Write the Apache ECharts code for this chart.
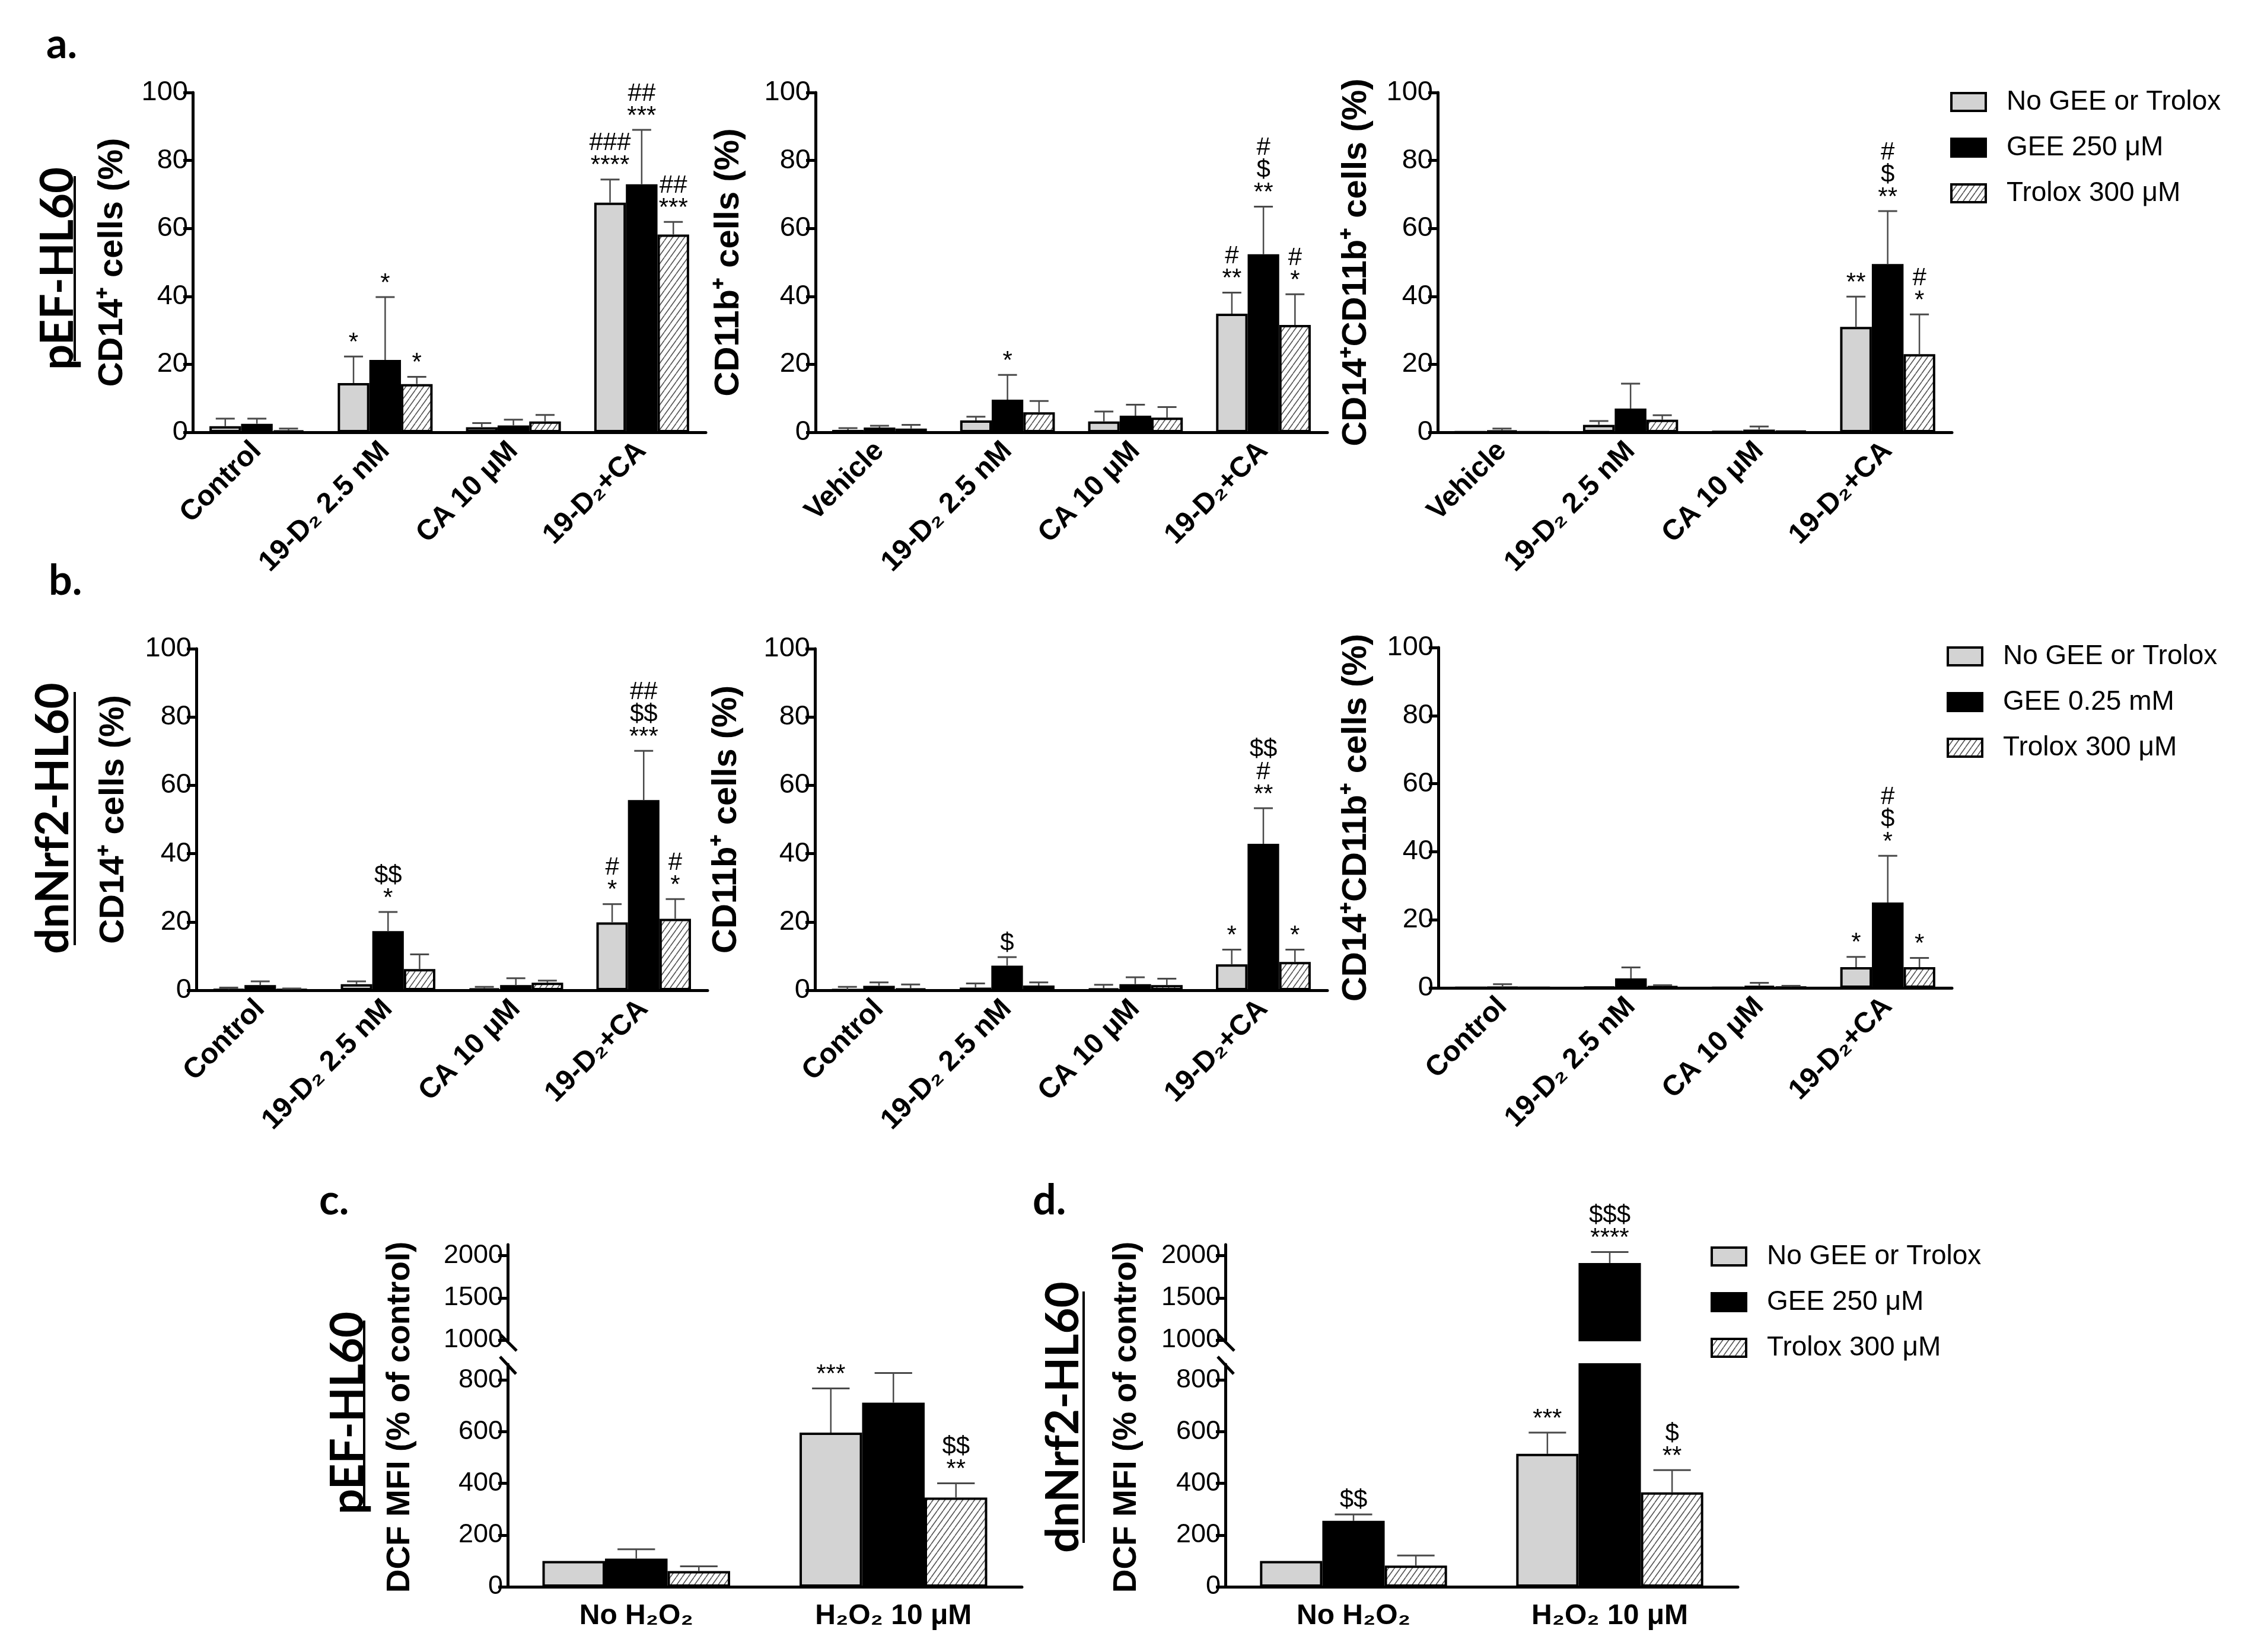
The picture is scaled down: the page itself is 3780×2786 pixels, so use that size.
<!DOCTYPE html>
<html>
<head>
<meta charset="utf-8">
<title>GEE / Trolox bar charts</title>
<script src="https://cdn.jsdelivr.net/npm/echarts@6/dist/echarts.min.js"></script>
<style>
  html, body { margin: 0; padding: 0; background: #fff; }
  #main { width: 3780px; height: 2786px; }
</style>
</head>
<body>
<div id="main"></div>
<script>
// legend groups
var groupsA = ['No GEE or Trolox', 'GEE 250 μM', 'Trolox 300 μM'];
var groupsB = ['No GEE or Trolox', 'GEE 0.25 mM', 'Trolox 300 μM'];

// categories
var catsCtrl = ['Control', '19-D₂ 2.5 nM', 'CA 10 μM', '19-D₂+CA'];
var catsVeh = ['Vehicle', '19-D₂ 2.5 nM', 'CA 10 μM', '19-D₂+CA'];
var catsH2O2 = ['No H₂O₂', 'H₂O₂ 10 μM'];

// tick labels
var pctTicks = [0, 20, 40, 60, 80, 100];
var mfiTicksLow = [0, 200, 400, 600, 800];
var mfiTicksHigh = [1000, 1500, 2000];

// a. pEF-HL60 : [gray, black, hatched] x categories
var a1Mean = [[1.8, 14.5, 1.5, 67.6], [2.5, 21.3, 2.0, 73.0], [0.5, 14.2, 3.2, 58.2]];
var a1Sd = [[2.2, 7.8, 1.2, 6.8], [1.5, 18.5, 1.7, 16.0], [0.6, 2.1, 1.9, 3.7]];
var a1Sig = [['', '*', '', '###\n****'], ['', '*', '', '##\n***'], ['', '*', '', '##\n***']];

var a2Mean = [[0.7, 3.5, 3.2, 34.9], [1.4, 9.6, 4.9, 52.4], [1.1, 5.9, 4.3, 31.6]];
var a2Sd = [[0.5, 1.1, 2.9, 6.2], [0.5, 7.3, 3.2, 14.0], [1.1, 3.3, 3.1, 9.0]];
var a2Sig = [['', '', '', '#\n**'], ['', '*', '', '#\n$\n**'], ['', '', '', '#\n*']];

var a3Mean = [[0.1, 2.2, 0.3, 31.0], [0.5, 7.0, 0.8, 49.5], [0.1, 3.7, 0.4, 23.0]];
var a3Sd = [[0, 1.1, 0, 8.9], [0.6, 7.3, 0.9, 15.6], [0, 1.3, 0, 11.7]];
var a3Sig = [['', '', '', '**'], ['', '', '', '#\n$\n**'], ['', '', '', '#\n*']];

// b. dnNrf2-HL60
var b1Mean = [[0.3, 1.8, 0.5, 19.9], [1.5, 17.3, 1.5, 55.7], [0.3, 6.2, 2.2, 20.9]];
var b1Sd = [[0.5, 0.8, 0.5, 5.3], [1.1, 5.6, 2.0, 14.4], [0.2, 4.3, 0.6, 5.8]];
var b1Sig = [['', '', '', '#\n*'], ['', '$$\n*', '', '##\n$$\n***'], ['', '', '', '#\n*']];

var b2Mean = [[0.2, 0.8, 0.5, 7.6], [1.3, 7.2, 1.8, 42.9], [0.5, 1.4, 1.5, 8.3]];
var b2Sd = [[0.8, 1.2, 1.1, 4.3], [1.0, 2.5, 2.0, 10.4], [1.2, 0.9, 1.9, 3.6]];
var b2Sig = [['', '', '', '*'], ['', '$', '', '$$\n#\n**'], ['', '', '', '*']];

var b3Mean = [[0.05, 0.3, 0.1, 6.1], [0.2, 2.8, 0.6, 25.1], [0.05, 0.5, 0.3, 6.1]];
var b3Sd = [[0, 0, 0, 3.0], [0.9, 3.2, 0.9, 13.7], [0, 0.3, 0.3, 2.7]];
var b3Sig = [['', '', '', '*'], ['', '', '', '#\n$\n*'], ['', '', '', '*']];

// c. pEF-HL60 DCF MFI, d. dnNrf2-HL60 DCF MFI
var cMean = [[100, 596], [109, 712], [61, 345]];
var cSd = [[0, 171], [36, 115], [18, 55]];
var cSig = [['', '***'], ['', ''], ['', '$$\n**']];

var dMean = [[100, 514], [255, 1913], [82, 365]];
var dSd = [[0, 82], [25, 130], [39, 86]];
var dSig = [['', '***'], ['$$', '$$$\n****'], ['', '$\n**']];

// hatch pattern
var tile = document.createElement('canvas');
tile.width = 10; tile.height = 14;
var tc = tile.getContext('2d');
tc.fillStyle = '#fff';
tc.fillRect(0, 0, 10, 14);
tc.strokeStyle = '#555';
tc.lineWidth = 1.6;
tc.beginPath();
tc.moveTo(0, 14); tc.lineTo(10, 0);
tc.moveTo(-10, 14); tc.lineTo(0, 0);
tc.moveTo(10, 14); tc.lineTo(20, 0);
tc.stroke();
var hatch = { image: tile, repeat: 'repeat' };

var fills = ['#d3d3d3', '#000', hatch];
var FONT = "'Liberation Sans', Arial, sans-serif";
var HEAD = "bold 76px Lato, 'Open Sans', sans-serif";

var panels = [
  { cats: catsCtrl, mean: a1Mean, sd: a1Sd, sig: a1Sig, names: groupsA, left: 325, top: 156, width: 865, height: 573, yName: 'CD14⁺ cells (%)', nameGap: 106, min: 0, max: 100, ticks: pctTicks, gap: 0.26 },
  { cats: catsVeh, mean: a2Mean, sd: a2Sd, sig: a2Sig, names: groupsA, left: 1375, top: 156, width: 863, height: 573, yName: 'CD11b⁺ cells (%)', nameGap: 117, min: 0, max: 100, ticks: pctTicks, gap: 0.26 },
  { cats: catsVeh, mean: a3Mean, sd: a3Sd, sig: a3Sig, names: groupsA, left: 2424, top: 156, width: 867, height: 573, yName: 'CD14⁺CD11b⁺ cells (%)', nameGap: 108, min: 0, max: 100, ticks: pctTicks, gap: 0.26 },
  { cats: catsCtrl, mean: b1Mean, sd: b1Sd, sig: b1Sig, names: groupsB, left: 331, top: 1094, width: 862, height: 576, yName: 'CD14⁺ cells (%)', nameGap: 110, min: 0, max: 100, ticks: pctTicks, gap: 0.26 },
  { cats: catsCtrl, mean: b2Mean, sd: b2Sd, sig: b2Sig, names: groupsB, left: 1374, top: 1094, width: 864, height: 576, yName: 'CD11b⁺ cells (%)', nameGap: 120, min: 0, max: 100, ticks: pctTicks, gap: 0.26 },
  { cats: catsCtrl, mean: b3Mean, sd: b3Sd, sig: b3Sig, names: groupsB, left: 2425, top: 1092, width: 866, height: 574, yName: 'CD14⁺CD11b⁺ cells (%)', nameGap: 109, min: 0, max: 100, ticks: pctTicks, gap: 0.26 },
  { cats: catsH2O2, mean: cMean, sd: cSd, sig: cSig, names: groupsA, left: 856, top: 2099, width: 867, height: 161, min: 1000, max: 2130, ticks: mfiTicksHigh, gap: 0.27, hideX: true },
  { cats: catsH2O2, mean: cMean, sd: cSd, sig: cSig, names: groupsA, left: 856, top: 2301, width: 867, height: 375, min: 0, max: 860, ticks: mfiTicksLow, gap: 0.27, flat: true },
  { cats: catsH2O2, mean: dMean, sd: dSd, sig: dSig, names: groupsA, left: 2066, top: 2099, width: 864, height: 161, min: 1000, max: 2130, ticks: mfiTicksHigh, gap: 0.27, hideX: true },
  { cats: catsH2O2, mean: dMean, sd: dSd, sig: dSig, names: groupsA, left: 2066, top: 2301, width: 864, height: 375, min: 0, max: 860, ticks: mfiTicksLow, gap: 0.27, flat: true }
];

var grids = [], xAxes = [], yAxes = [], series = [];

panels.forEach(function (p, i) {
  grids.push({ left: p.left, top: p.top, width: p.width, height: p.height, outerBoundsMode: 'none', containLabel: false });
  var small = p.ticks === pctTicks;
  xAxes.push({
    type: 'category', gridIndex: i, data: p.cats, show: !p.hideX,
    axisLine: { lineStyle: { color: '#000', width: 5 } },
    axisTick: { alignWithLabel: true, length: 18, lineStyle: { color: '#000', width: 5 } },
    axisLabel: p.flat ? { interval: 0, color: '#000', fontFamily: FONT, fontWeight: 'bold', fontSize: 48, margin: 26 }
                      : { interval: 0, rotate: 45, color: '#000', fontFamily: FONT, fontWeight: 'bold', fontSize: 48, margin: 24 }
  });
  yAxes.push({
    type: 'value', gridIndex: i, min: p.min, max: p.max,
    interval: small ? 20 : undefined,
    name: p.yName || '', nameLocation: 'middle', nameGap: p.nameGap || 0, nameRotate: 90,
    nameTextStyle: { color: '#000', fontFamily: FONT, fontWeight: 'bold', fontSize: 58 },
    axisLine: { show: true, lineStyle: { color: '#000', width: 5 } },
    axisTick: { show: true, length: 16, lineStyle: { color: '#000', width: 5 }, customValues: p.ticks },
    axisLabel: {
      color: '#000', fontFamily: FONT, fontSize: small ? 47 : 45, margin: 8, customValues: p.ticks,
      formatter: function (v) { return String(v); }
    },
    splitLine: { show: false }
  });
  p.mean.forEach(function (vals, g) {
    series.push({
      type: 'bar', name: p.names[g], xAxisIndex: i, yAxisIndex: i,
      data: vals.map(function (v) { return v >= p.min ? v : '-'; }),
      barGap: '0%', barCategoryGap: Math.round(p.gap * 100) + '%',
      itemStyle: { color: fills[g], borderColor: '#000', borderWidth: 4 },
      emphasis: { disabled: true }, silent: true
    });
  });
  // error bars and significance marks
  var items = [];
  p.mean.forEach(function (vals, g) {
    vals.forEach(function (m, c) {
      items.push({ value: [c, m, m + p.sd[g][c], g], sig: p.sig[g][c] });
    });
  });
  series.push({
    type: 'custom', xAxisIndex: i, yAxisIndex: i, z: 10, silent: true,
    data: items.map(function (it) { return it.value; }),
    renderItem: function (params, api) {
      var it = items[params.dataIndex];
      var c = api.value(0), m = api.value(1), top = api.value(2), g = api.value(3);
      if (m > p.max || top < p.min) return null;
      var band = api.size([1, 0])[0];
      var bw = band * (1 - p.gap) / 3;
      var b = api.coord([c, Math.max(m, p.min)]);
      var t = api.coord([c, top]);
      var x = b[0] + (g - 1) * bw;
      var kids = [];
      if (top > m) {
        kids.push({ type: 'line', shape: { x1: x, y1: b[1], x2: x, y2: t[1] }, style: { stroke: '#4a4a4a', lineWidth: 2.5 } });
        kids.push({ type: 'line', shape: { x1: x - bw * 0.3, y1: t[1], x2: x + bw * 0.3, y2: t[1] }, style: { stroke: '#4a4a4a', lineWidth: 3 } });
      }
      if (it.sig) {
        kids.push({ type: 'text', x: x, y: t[1] - 4, style: { text: it.sig, fill: '#000', fontFamily: FONT, fontSize: 42, lineHeight: 38, align: 'center', verticalAlign: 'bottom' } });
      }
      return { type: 'group', children: kids };
    }
  });
});

var legendText = { color: '#000', fontFamily: FONT, fontSize: 46, padding: [0, 0, 0, 30] };
var legends = [
  { data: groupsA, left: 3283, top: 144 },
  { data: groupsB, left: 3277, top: 1079 },
  { data: groupsA, left: 2879, top: 2091 }
].map(function (l) {
  return {
    data: l.data, left: l.left, top: l.top, orient: 'vertical', icon: 'rect',
    itemWidth: 58, itemHeight: 30, itemGap: 31, selectedMode: false,
    itemStyle: { borderColor: '#000', borderWidth: 4 },
    textStyle: legendText
  };
});

// panel letters, row labels, underlines, broken-axis marks
var graphics = [];
function letter(t, x, y) {
  graphics.push({ type: 'text', left: x, top: y, style: { text: t, fill: '#000', font: "bold 70px Lato, 'Open Sans', sans-serif" } });
}
letter('a.', 78, 40);
letter('b.', 82, 945);
letter('c.', 538, 1990);
letter('d.', 1741, 1990);

function rowLabel(t, cx, cy, ux, y1, y2) {
  graphics.push({ type: 'text', x: cx, y: cy, rotation: Math.PI / 2, style: { text: t, fill: '#000', font: HEAD, align: 'center', verticalAlign: 'middle' } });
  graphics.push({ type: 'line', shape: { x1: ux, y1: y1, x2: ux, y2: y2 }, style: { stroke: '#000', lineWidth: 4 } });
}
rowLabel('pEF-HL60', 98, 453, 126, 297, 609);
rowLabel('dnNrf2-HL60', 90, 1380, 126, 1167, 1594);
rowLabel('pEF-HL60', 587, 2383, 614, 2227, 2540);
rowLabel('dnNrf2-HL60', 1793, 2390, 1827, 2178, 2602);

function dcfTitle(cx) {
  graphics.push({ type: 'text', x: cx, y: 2390, rotation: Math.PI / 2, style: { text: 'DCF MFI (% of control)', fill: '#000', fontFamily: FONT, fontWeight: 'bold', fontSize: 55, align: 'center', verticalAlign: 'middle' } });
}
dcfTitle(675);
dcfTitle(1900);

function breakMarks(ax) {
  graphics.push({ type: 'line', shape: { x1: ax - 13, y1: 2250, x2: ax + 15, y2: 2278 }, style: { stroke: '#000', lineWidth: 5 } });
  graphics.push({ type: 'line', shape: { x1: ax - 13, y1: 2288, x2: ax + 14, y2: 2317 }, style: { stroke: '#000', lineWidth: 5 } });
}
breakMarks(856);
breakMarks(2066);

var chart = echarts.init(document.getElementById('main'), null, { renderer: 'canvas' });
chart.setOption({
  backgroundColor: '#fff',
  animation: false,
  textStyle: { fontFamily: FONT },
  grid: grids,
  xAxis: xAxes,
  yAxis: yAxes,
  legend: legends,
  series: series,
  graphic: graphics
});
</script>
</body>
</html>
